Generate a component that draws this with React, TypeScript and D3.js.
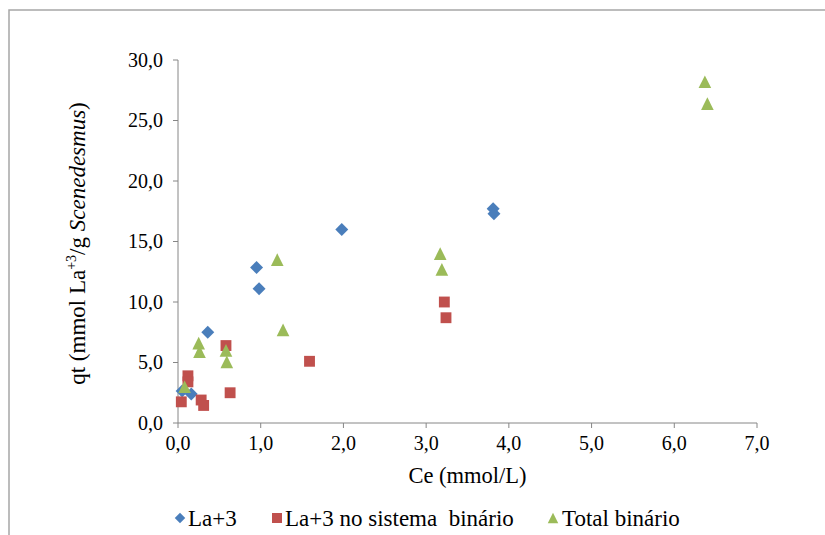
import React from "react";
import * as d3 from "d3";

// Sorption data: Ce (mmol/L) vs qt
const laX = [0.05, 0.16, 0.36, 0.95, 0.98, 1.98, 3.81, 3.82];
const laY = [2.65, 2.4, 7.5, 12.85, 11.1, 16.0, 17.7, 17.3];

const binX = [0.04, 0.12, 0.12, 0.28, 0.31, 0.58, 0.63, 1.59, 3.22, 3.24];
const binY = [1.75, 3.9, 3.4, 1.9, 1.45, 6.4, 2.5, 5.1, 10.0, 8.7];

const totX = [0.08, 0.25, 0.26, 0.58, 0.59, 1.2, 1.27, 3.17, 3.19, 6.37, 6.4];
const totY = [3.0, 6.6, 5.9, 6.0, 5.05, 13.5, 7.7, 14.0, 12.7, 28.2, 26.4];

const xTicks = [0, 1, 2, 3, 4, 5, 6, 7];
const yTicks = [0, 5, 10, 15, 20, 25, 30];

const seriesNames = ["La+3", "La+3 no sistema  binário", "Total binário"];
const colors = ["#4A7EBB", "#C0504D", "#9BBB59"];

const W = 825;
const H = 535;
const plot = { left: 178, right: 757, top: 60, bottom: 423 };

const fmt = (v: number) => v.toFixed(1).replace(".", ",");

// Triangle with given width = height
const triType: d3.SymbolType = {
  draw(ctx, size) {
    const s = Math.sqrt(size);
    ctx.moveTo(0, -s / 2);
    ctx.lineTo(s / 2, s / 2);
    ctx.lineTo(-s / 2, s / 2);
    ctx.closePath();
  },
};

const diamondPath = d3.symbol(d3.symbolSquare, 84)()!;
const squarePath = d3.symbol(d3.symbolSquare, 118)()!;
const trianglePath = d3.symbol(triType, 160)()!;
const legendDiamond = d3.symbol(d3.symbolSquare, 55)()!;
const legendSquare = d3.symbol(d3.symbolSquare, 100)()!;
const legendTriangle = d3.symbol(triType, 110)()!;

export default function App() {
  const x = d3.scaleLinear().domain([0, 7]).range([plot.left, plot.right]);
  const y = d3.scaleLinear().domain([0, 30]).range([plot.bottom, plot.top]);
  const font = "'Liberation Serif', 'Times New Roman', serif";
  const axisColor = "#868686";

  return (
    <svg
      width={W}
      height={H}
      style={{ position: "fixed", left: 0, top: 0, background: "#fff" }}
      fontFamily={font}
    >
      <rect x={0} y={0} width={W} height={H} fill="#fff" />
      <rect x={9} y={10} width={900} height={700} fill="none" stroke="#a6a6a6" strokeWidth={1.5} />

      {/* y axis */}
      <line x1={plot.left} x2={plot.left} y1={plot.top} y2={plot.bottom} stroke={axisColor} />
      {yTicks.map((t) => (
        <g key={"y" + t}>
          <line x1={plot.left - 5} x2={plot.left} y1={y(t)} y2={y(t)} stroke={axisColor} />
          <text x={plot.left - 15} y={y(t) + 6.5} textAnchor="end" fontSize={20} fill="#000">
            {fmt(t)}
          </text>
        </g>
      ))}

      {/* x axis */}
      <line x1={plot.left} x2={plot.right} y1={plot.bottom} y2={plot.bottom} stroke={axisColor} />
      {xTicks.map((t) => (
        <g key={"x" + t}>
          <line x1={x(t)} x2={x(t)} y1={plot.bottom} y2={plot.bottom + 5} stroke={axisColor} />
          <text x={x(t)} y={plot.bottom + 27} textAnchor="middle" fontSize={20} fill="#000">
            {fmt(t)}
          </text>
        </g>
      ))}

      <text x={(plot.left + plot.right) / 2} y={483} textAnchor="middle" fontSize={22.5} fill="#000">
        Ce (mmol/L)
      </text>

      <text
        transform={`translate(85, ${(plot.top + plot.bottom) / 2 + 2}) rotate(-90)`}
        textAnchor="middle"
        fontSize={23}
        fill="#000"
      >
        qt (mmol La
        <tspan fontSize={14} dy={-9}>+3</tspan>
        <tspan dy={9}>/g </tspan>
        <tspan fontStyle="italic">Scenedesmus</tspan>)
      </text>

      {/* series */}
      {laX.map((v, i) => (
        <path
          key={"la" + i}
          d={diamondPath}
          transform={`translate(${x(v)},${y(laY[i])}) rotate(45)`}
          fill={colors[0]}
        />
      ))}
      {binX.map((v, i) => (
        <path
          key={"bin" + i}
          d={squarePath}
          transform={`translate(${x(v)},${y(binY[i])})`}
          fill={colors[1]}
        />
      ))}
      {totX.map((v, i) => (
        <path
          key={"tot" + i}
          d={trianglePath}
          transform={`translate(${x(v)},${y(totY[i])})`}
          fill={colors[2]}
        />
      ))}

      {/* legend */}
      <g fontSize={23} fill="#000">
        <path d={legendDiamond} transform="translate(180,518) rotate(45)" fill={colors[0]} />
        <text x={188} y={526}>{seriesNames[0]}</text>
        <path d={legendSquare} transform="translate(277,518)" fill={colors[1]} />
        <text x={285} y={526} style={{ whiteSpace: "pre" }}>{seriesNames[1]}</text>
        <path d={legendTriangle} transform="translate(553,518)" fill={colors[2]} />
        <text x={562} y={526}>{seriesNames[2]}</text>
      </g>
    </svg>
  );
}
